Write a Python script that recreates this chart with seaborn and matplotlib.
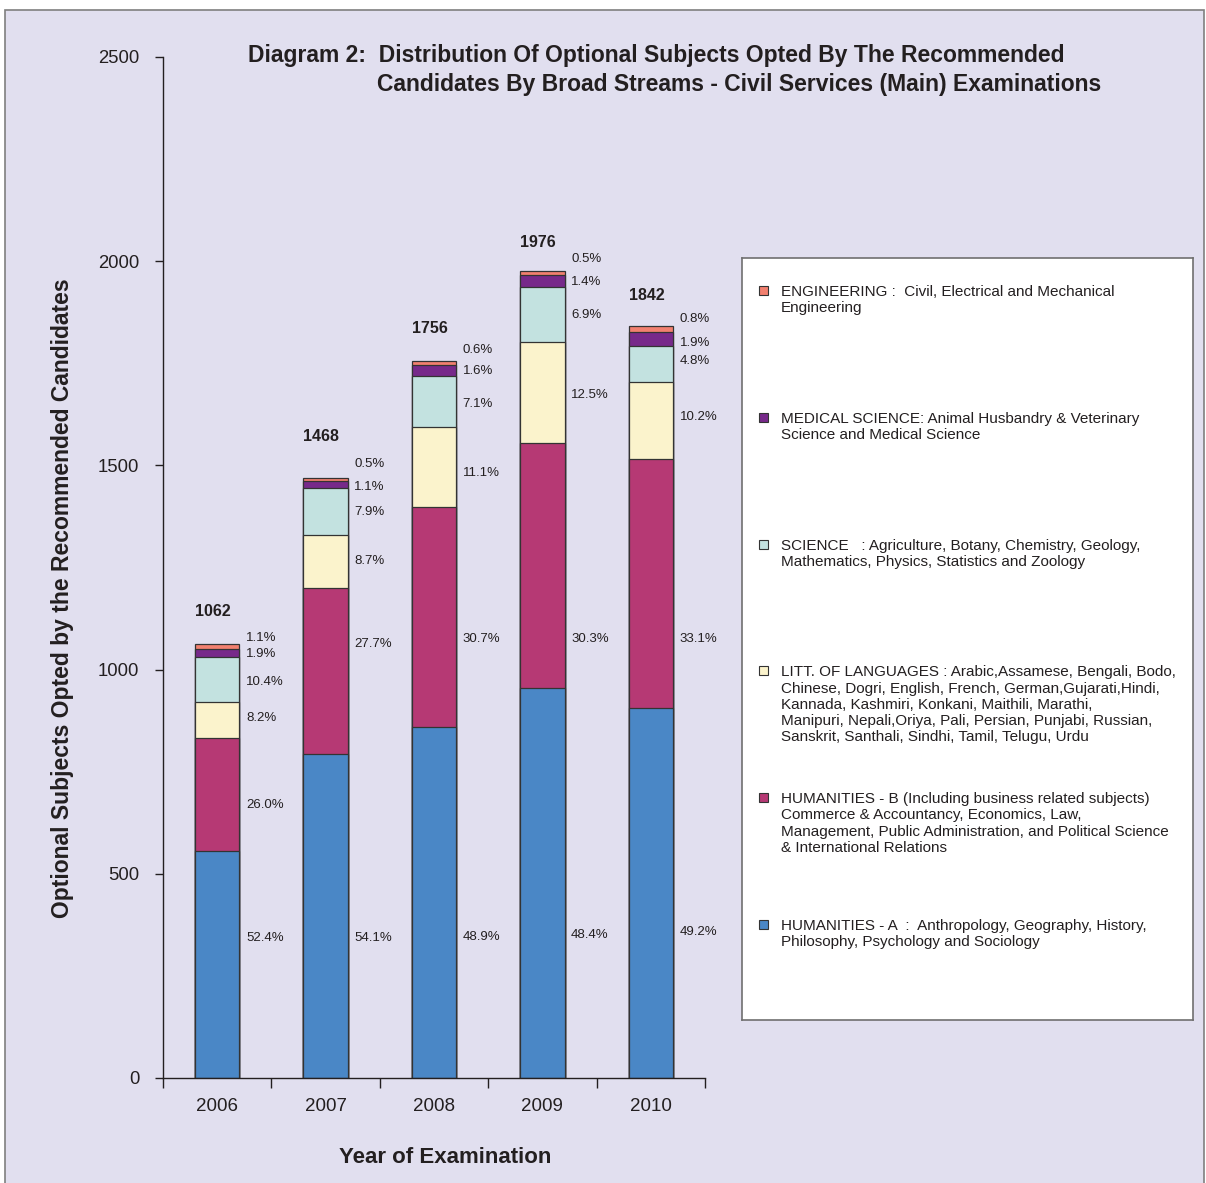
import matplotlib
matplotlib.use("Agg")
import matplotlib.pyplot as plt
from matplotlib.patches import Rectangle
import numpy as np
import seaborn as sns

# ---- data ----
years = ["2006", "2007", "2008", "2009", "2010"]
totals = [1062, 1468, 1756, 1976, 1842]

# candidates per stream (bottom of the bar first)
humanities_a = [557, 794, 859, 956, 906]
humanities_b = [276, 407, 539, 599, 610]
litt_languages = [87, 128, 195, 247, 188]
science = [110, 116, 125, 136, 88]
medical = [20, 16, 28, 28, 35]
engineering = [12, 7, 10, 10, 15]

pct_humanities_a = ["52.4%", "54.1%", "48.9%", "48.4%", "49.2%"]
pct_humanities_b = ["26.0%", "27.7%", "30.7%", "30.3%", "33.1%"]
pct_litt = ["8.2%", "8.7%", "11.1%", "12.5%", "10.2%"]
pct_science = ["10.4%", "7.9%", "7.1%", "6.9%", "4.8%"]
pct_medical = ["1.9%", "1.1%", "1.6%", "1.4%", "1.9%"]
pct_engineering = ["1.1%", "0.5%", "0.6%", "0.5%", "0.8%"]

legend_labels = [
    "ENGINEERING :  Civil, Electrical and Mechanical\nEngineering",
    "MEDICAL SCIENCE: Animal Husbandry & Veterinary\nScience and Medical Science",
    "SCIENCE   : Agriculture, Botany, Chemistry, Geology,\nMathematics, Physics, Statistics and Zoology",
    "LITT. OF LANGUAGES : Arabic,Assamese, Bengali, Bodo,\nChinese, Dogri, English, French, German,Gujarati,Hindi,\n"
    "Kannada, Kashmiri, Konkani, Maithili, Marathi,\nManipuri, Nepali,Oriya, Pali, Persian, Punjabi, Russian,\n"
    "Sanskrit, Santhali, Sindhi, Tamil, Telugu, Urdu",
    "HUMANITIES - B (Including business related subjects)\nCommerce & Accountancy, Economics, Law,\n"
    "Management, Public Administration, and Political Science\n& International Relations",
    "HUMANITIES - A  :  Anthropology, Geography, History,\nPhilosophy, Psychology and Sociology",
]

# ---- styling / layout ----
colors = {
    "ha": "#4A87C6", "hb": "#B63974", "lit": "#FBF3CC",
    "sci": "#C3E2E0", "med": "#77298A", "eng": "#F2806F",
}
bg = "#E1DFEF"
txt = "#231F20"
# label heights (in data units) where the original places the percentages
lab_y = {
    "ha": [343, 343, 345, 350, 357],
    "hb": [668, 1063, 1075, 1075, 1075],
    "lit": [881, 1266, 1481, 1672, 1619],
    "sci": [970, 1386, 1650, 1868, 1756],
    "med": [1038, 1447, 1731, 1949, 1800],
    "eng": [1077, 1503, 1783, 2005, 1858],
}
total_lab_y = [1143, 1570, 1834, 2045, 1915]

W, H = 1206, 1183
sns.set_style("white")
plt.rcParams["font.family"] = ["Liberation Sans", "DejaVu Sans"]

fig = plt.figure(figsize=(W / 100, H / 100), dpi=100, facecolor="white")
fig.add_artist(Rectangle((5 / W, -0.01), 1199 / W, 1 - 10 / H + 0.01,
                         transform=fig.transFigure, facecolor=bg,
                         edgecolor="#7F7F7F", lw=1.2, zorder=0))

ax = fig.add_axes([163 / W, 1 - 1078 / H, 542 / W, 1021 / H])
ax.set_facecolor("none")

layers = [("ha", humanities_a, pct_humanities_a),
          ("hb", humanities_b, pct_humanities_b),
          ("lit", litt_languages, pct_litt),
          ("sci", science, pct_science),
          ("med", medical, pct_medical),
          ("eng", engineering, pct_engineering)]

stack = np.cumsum([vals for _, vals, _ in layers], axis=0)
# draw tallest first so each lower stack covers the one above
for (key, _, _), tops in reversed(list(zip(layers, stack))):
    sns.barplot(x=years, y=tops, color=colors[key], saturation=1, width=0.41,
                edgecolor="#333333", linewidth=0.9, ax=ax)

for key, _, pcts in layers:
    for i, p in enumerate(pcts):
        ax.text(i + 0.265, lab_y[key][i], p, fontsize=9.5, color=txt,
                ha="left", va="center")

for i, t in enumerate(totals):
    ax.text(i - 0.04, total_lab_y[i], str(t), fontsize=11.5, fontweight="bold",
            color=txt, ha="center", va="center")

ax.set_xlim(-0.5, 4.5)
ax.set_ylim(0, 2500)
ax.set_yticks(range(0, 2501, 500))
ax.set_xlabel("")
ax.set_ylabel("")
ax.set_xticks(np.arange(-0.5, 5, 1), minor=True)
ax.tick_params(axis="y", direction="out", length=6, width=1, pad=11,
               labelsize=13.3, colors=txt, left=True)
ax.tick_params(axis="x", which="major", length=0, pad=14.5, labelsize=13.5,
               colors=txt)
ax.tick_params(axis="x", which="minor", direction="out", length=7, width=1,
               bottom=True, color=txt)
sns.despine(ax=ax)
for s in ["left", "bottom"]:
    ax.spines[s].set_color(txt)
    ax.spines[s].set_linewidth(1)

fig.text(248 / W, 1 - 62 / H,
         "Diagram 2:  Distribution Of Optional Subjects Opted By The Recommended",
         fontsize=16.5, fontweight="bold", color=txt, ha="left", va="baseline")
fig.text(377 / W, 1 - 91 / H,
         "Candidates By Broad Streams - Civil Services (Main) Examinations",
         fontsize=16.5, fontweight="bold", color=txt, ha="left", va="baseline")
fig.text(63 / W, 1 - 598 / H,
         "Optional Subjects Opted by the Recommended Candidates",
         fontsize=16.5, fontweight="bold", color=txt, rotation=90,
         ha="center", va="center")
fig.text(445 / W, 1 - 1163 / H, "Year of Examination", fontsize=16,
         fontweight="bold", color=txt, ha="center", va="baseline")

# legend box drawn as its own axes, pixel coordinates inside
lx0, ly0, lx1, ly1 = 742, 258, 1193, 1020
lax = fig.add_axes([lx0 / W, 1 - ly1 / H, (lx1 - lx0) / W, (ly1 - ly0) / H])
lax.set_facecolor("white")
lax.set_xlim(0, lx1 - lx0)
lax.set_ylim(ly1 - ly0, 0)
lax.set_xticks([])
lax.set_yticks([])
for s in lax.spines.values():
    s.set_color("#6F6F6F")
    s.set_linewidth(1.2)

leg_keys = ["eng", "med", "sci", "lit", "hb", "ha"]
for j, (key, label) in enumerate(zip(leg_keys, legend_labels)):
    yc = 33 + j * 126.8
    lax.add_patch(Rectangle((17, yc - 5), 9, 9, facecolor=colors[key],
                            edgecolor="#333333", lw=0.8))
    lax.text(39, yc - 6, label, fontsize=11, color=txt, ha="left",
             va="top", linespacing=1.2)

fig.savefig("out.png", dpi=100, facecolor="white")
